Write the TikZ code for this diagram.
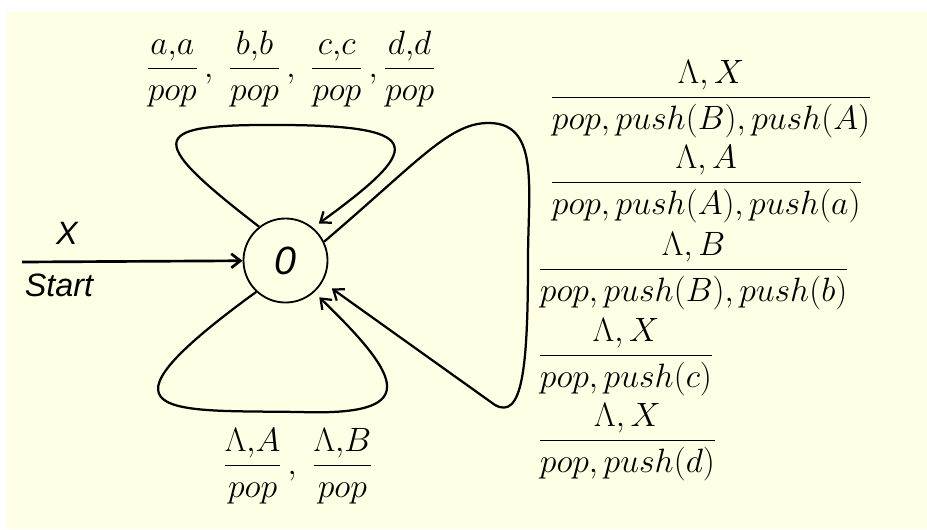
\RequirePackage{fix-cm}
\documentclass[tikz,border=0pt]{standalone}
\usepackage{fontspec}
\usepackage{amsmath}
\usetikzlibrary{arrows.meta,positioning}
\newfontfamily\sansit{Liberation Sans}
\definecolor{paper}{RGB}{255,255,230}
\newcommand{\pop}{pop}
\newcommand{\push}[1]{push(#1)}

\begin{document}
\begin{tikzpicture}[x=0.025cm,y=-0.025cm,
  state/.style={draw,circle,line width=1.3pt,minimum size=2.1cm,inner sep=0pt,
                font=\sansit\itshape\fontsize{28}{32}\selectfont},
  edge/.style={line width=1.6pt,-{Straight Barb[length=6.5pt,width=10pt]}},
  lbl/.style={inner sep=0pt,font=\fontsize{24}{28}\selectfont},
  tag/.style={font=\sansit\itshape\fontsize{23}{26}\selectfont}]
\useasboundingbox (0,0) rectangle (927,529);
\fill[paper] (7,12) rectangle (927,529);

% the one state
\node[state] (zero) at (285.5,260.5) {0};

% start arrow
\coordinate (start) at (22,262);
\draw[edge,line width=1.9pt] (start) -- (zero);
\node[tag] (lblX) at (67,233) {X};
\node[tag] (lblStart) at (59,285) {Start};

% self loops
\draw[edge,shorten >=5pt] (zero.128) .. controls (140,135) and (150,124) .. (285,125)
  .. controls (430,126) and (420,150) .. (zero.50);
\draw[edge,shorten >=5pt] (zero.227) .. controls (80,420) and (170,410) .. (300,412)
  .. controls (420,416) and (405,380) .. (zero.-48);
\draw[edge,shorten >=8pt] (zero.26) .. controls (420,160) and (450,122) .. (490,123)
  .. controls (540,124) and (528,190) .. (528,260)
  .. controls (528,370) and (522,420) .. (495,405) -- (zero.-30);

% loop labels
\node[lbl,anchor=base] (lblTop) at (291,77)
  {$\dfrac{a{,}a}{\pop}\,,\;\dfrac{b{,}b}{\pop}\,,\;\dfrac{c{,}c}{\pop}\,,\dfrac{d{,}d}{\pop}$};
\node[lbl,anchor=base] (lblBot) at (298,474)
  {$\dfrac{\Lambda{,}A}{\pop}\,,\;\dfrac{\Lambda{,}B}{\pop}$};

\node[lbl,anchor=base west] (ruleX) at (550,106) {$\dfrac{\Lambda, X}{\pop, \push{B}, \push{A}}$};
\node[lbl,anchor=base west] (ruleA) at (550,191) {$\dfrac{\Lambda, A}{\pop, \push{A}, \push{a}}$};
\node[lbl,anchor=base west] (ruleB) at (538,278) {$\dfrac{\Lambda, B}{\pop, \push{B}, \push{b}}$};
\node[lbl,anchor=base west] (ruleC) at (538,364) {$\dfrac{\Lambda, X}{\pop, \push{c}}$};
\node[lbl,anchor=base west] (ruleD) at (538,449) {$\dfrac{\Lambda, X}{\pop, \push{d}}$};
\end{tikzpicture}
\end{document}
